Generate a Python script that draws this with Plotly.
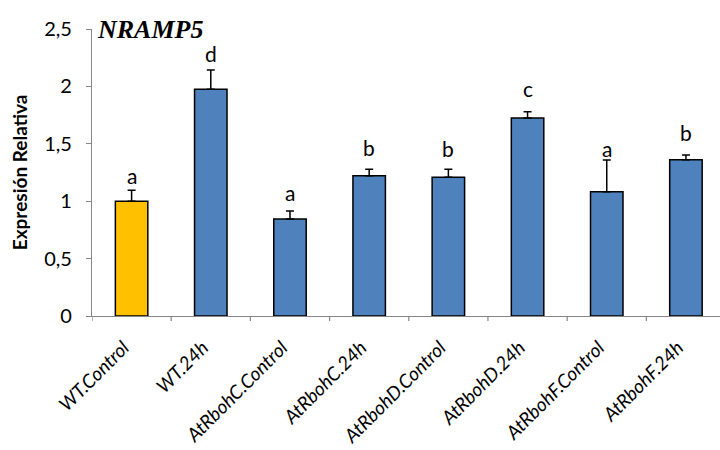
import plotly.graph_objects as go

categories = ["WT.Control", "WT.24h", "AtRbohC.Control", "AtRbohC.24h",
              "AtRbohD.Control", "AtRbohD.24h", "AtRbohF.Control", "AtRbohF.24h"]
values = [1.00, 1.975, 0.845, 1.222, 1.208, 1.725, 1.083, 1.362]
errors = [0.095, 0.168, 0.07, 0.056, 0.07, 0.055, 0.276, 0.04]
letters = ["a", "d", "a", "b", "b", "c", "a", "b"]
letter_y = [1.228, 2.29, 1.08, 1.47, 1.46, 1.98, 1.46, 1.60]
colors = ["#FFC000"] + ["#4F81BD"] * 7

fig = go.Figure()
fig.add_trace(go.Bar(
    x=list(range(len(categories))), y=values,
    marker=dict(color=colors, line=dict(color="#000000", width=1.5)),
    error_y=dict(type="data", array=errors, symmetric=False,
                 arrayminus=[0] * len(errors), color="#000000",
                 thickness=1.5, width=4),
    width=0.41,
))

for i, (lt, ly) in enumerate(zip(letters, letter_y)):
    fig.add_annotation(x=i, y=ly, text=lt, showarrow=False,
                       font=dict(family="Lato", size=21, color="#000000"))

fig.add_annotation(xref="paper", yref="paper", x=0.004, y=1.0, xanchor="left",
                   yanchor="middle", text="<b><i>NRAMP5</i></b>", showarrow=False,
                   font=dict(family="Liberation Serif", size=26, color="#000000"))

# y-axis title
fig.add_annotation(xref="paper", yref="paper", x=-0.115, y=0.5, xanchor="center",
                   yanchor="middle", textangle=-90, showarrow=False,
                   text="<b>Expresión Relativa</b>",
                   font=dict(family="Lato", size=19, color="#000000"))

fig.update_layout(
    width=720, height=450,
    margin=dict(l=92, r=0, t=29, b=134),
    paper_bgcolor="white", plot_bgcolor="white",
    separators=",.",
    showlegend=False,
    xaxis=dict(
        range=[-0.5, 7.43], automargin=False,
        tickmode="array", tickvals=list(range(len(categories))), ticktext=categories,
        tickangle=-45,
        tickfont=dict(family="Lato", size=19, color="#000000", style="italic"),
        ticklabelstandoff=12, ticklabelshift=-8,
        showline=True, linecolor="#868686", linewidth=1.2,
        ticks="", showgrid=False, zeroline=False,
    ),
    yaxis=dict(
        range=[0, 2.5], dtick=0.5, tick0=0, automargin=False,
        tickfont=dict(family="Lato", size=20, color="#000000"),
        ticklabelstandoff=10,
        showline=True, linecolor="#868686", linewidth=1.2,
        ticks="outside", ticklen=5, tickcolor="#868686",
        showgrid=False, zeroline=False,
    ),
)

# category boundary ticks on the x axis
for b in range(len(categories) + 1):
    fig.add_shape(type="line", xref="x", yref="paper", x0=b - 0.5, x1=b - 0.5,
                  y0=0, y1=-0.0175, line=dict(color="#868686", width=1.2))

fig.write_html("out.html", config={"displayModeBar": False},
               post_script="document.body.style.margin='0';document.body.style.overflow='hidden';")
